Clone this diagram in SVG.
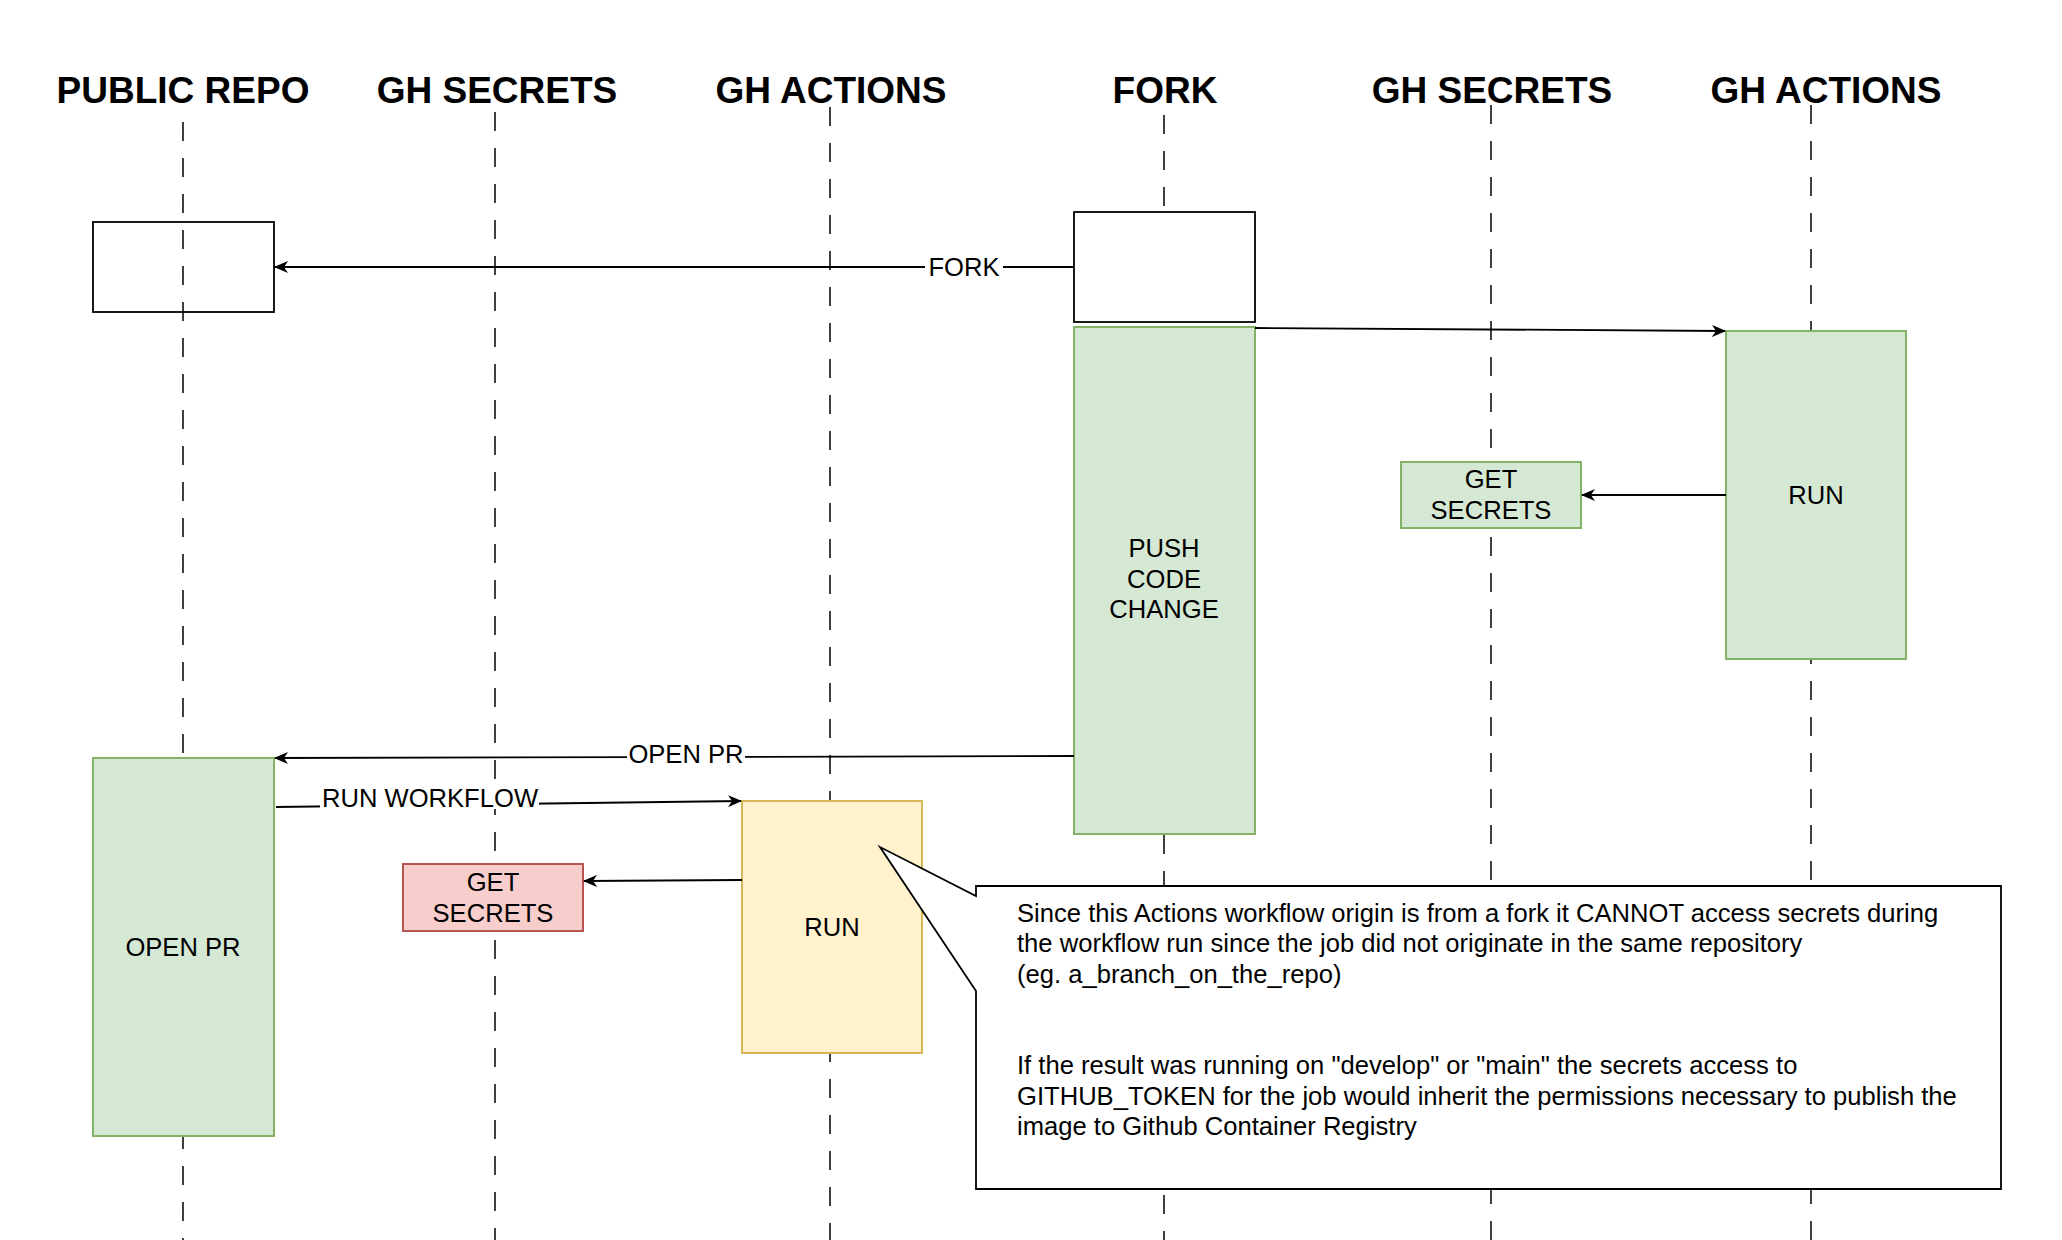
<svg xmlns="http://www.w3.org/2000/svg" width="2062" height="1240" viewBox="0 0 2062 1240">
<defs>
<style>
.hdr{font-family:"Liberation Sans",Arial,sans-serif;font-weight:bold;font-size:37px;fill:#000;text-anchor:middle}
.lbl{font-family:"Liberation Sans",Arial,sans-serif;font-size:25.6px;fill:#000;text-anchor:middle}
.note{font-family:"Liberation Sans",Arial,sans-serif;font-size:25.6px;fill:#000}
.life{stroke:#000;stroke-width:1.5;stroke-dasharray:19 17;fill:none}
.edge{stroke:#000;stroke-width:1.8;fill:none;marker-end:url(#arr)}
.plain{fill:#fff;stroke:#000;stroke-width:1.8}
.green{fill:#d5e8d4;stroke:#82b366;stroke-width:2}
.yellow{fill:#fff2cc;stroke:#d6b656;stroke-width:2}
.red{fill:#f8cecc;stroke:#b85450;stroke-width:2}
</style>
<marker id="arr" viewBox="0 0 14 12" refX="13" refY="6" markerWidth="14" markerHeight="12" markerUnits="userSpaceOnUse" orient="auto">
<path d="M0,0 L14,6 L0,12 L4,6 Z" fill="#000"/>
</marker>
</defs>
<rect width="2062" height="1240" fill="#fff"/>

<g id="headers">
<text class="hdr" x="183" y="103">PUBLIC REPO</text>
<text class="hdr" x="497" y="103">GH SECRETS</text>
<text class="hdr" x="831" y="103">GH ACTIONS</text>
<text class="hdr" x="1165" y="103">FORK</text>
<text class="hdr" x="1492" y="103">GH SECRETS</text>
<text class="hdr" x="1826" y="103">GH ACTIONS</text>
</g>

<g id="lifelines">
<line class="life" x1="183" y1="122" x2="183" y2="1240"/>
<line class="life" x1="495" y1="112" x2="495" y2="1240"/>
<line class="life" x1="830" y1="107" x2="830" y2="1240"/>
<line class="life" x1="1164" y1="115" x2="1164" y2="1240"/>
<line class="life" x1="1491" y1="105" x2="1491" y2="1240"/>
<line class="life" x1="1811" y1="105" x2="1811" y2="1240"/>
</g>

<g id="node-public-repo-box">
<rect x="93" y="222" width="181" height="90" fill="none" stroke="#000" stroke-width="1.8"/>
</g>
<g id="node-fork-box">
<rect class="plain" x="1074" y="212" width="181" height="110"/>
</g>
<g id="node-push-code-change">
<rect class="green" x="1074" y="327" width="181" height="507"/>
<text class="lbl" x="1164" y="557">PUSH</text>
<text class="lbl" x="1164" y="588">CODE</text>
<text class="lbl" x="1164" y="618">CHANGE</text>
</g>
<g id="node-fork-run">
<rect class="green" x="1726" y="331" width="180" height="328"/>
<text class="lbl" x="1816" y="504">RUN</text>
</g>
<g id="node-fork-get-secrets">
<rect class="green" x="1401" y="462" width="180" height="66"/>
<text class="lbl" x="1491" y="488">GET</text>
<text class="lbl" x="1491" y="519">SECRETS</text>
</g>
<g id="node-open-pr">
<rect class="green" x="93" y="758" width="181" height="378"/>
<text class="lbl" x="183" y="956">OPEN PR</text>
</g>
<g id="node-run">
<rect class="yellow" x="742" y="801" width="180" height="252"/>
<text class="lbl" x="832" y="936">RUN</text>
</g>
<g id="node-get-secrets">
<rect class="red" x="403" y="864" width="180" height="67"/>
<text class="lbl" x="493" y="891">GET</text>
<text class="lbl" x="493" y="922">SECRETS</text>
</g>

<g id="connectors">
<line class="edge" x1="1074" y1="267" x2="275" y2="267"/>
<rect x="925" y="252" width="78" height="28" fill="#fff"/>
<text class="lbl" x="964" y="276">FORK</text>

<line class="edge" x1="1255" y1="328" x2="1725" y2="331"/>
<line class="edge" x1="1726" y1="495" x2="1582" y2="495"/>

<line class="edge" x1="1074" y1="756" x2="275" y2="758"/>
<rect x="627" y="740" width="118" height="28" fill="#fff"/>
<text class="lbl" x="686" y="763">OPEN PR</text>

<line class="edge" x1="276" y1="807" x2="741" y2="801"/>
<rect x="320" y="782" width="219" height="27" fill="#fff"/>
<text class="lbl" x="430" y="807">RUN WORKFLOW</text>

<line class="edge" x1="742" y1="880" x2="584" y2="881"/>
</g>

<g id="node-note">
<path d="M976,886 L2001,886 L2001,1189 L976,1189 L976,991 L880,847 L976,896 Z" fill="#fff" stroke="#000" stroke-width="1.8" stroke-linejoin="miter"/>
<text class="note" x="1017" y="922">Since this Actions workflow origin is from a fork it CANNOT access secrets during</text>
<text class="note" x="1017" y="952">the workflow run since the job did not originate in the same repository</text>
<text class="note" x="1017" y="983">(eg. a_branch_on_the_repo)</text>
<text class="note" x="1017" y="1074">If the result was running on "develop" or "main" the secrets access to</text>
<text class="note" x="1017" y="1105">GITHUB_TOKEN for the job would inherit the permissions necessary to publish the</text>
<text class="note" x="1017" y="1135">image to Github Container Registry</text>
</g>
</svg>
